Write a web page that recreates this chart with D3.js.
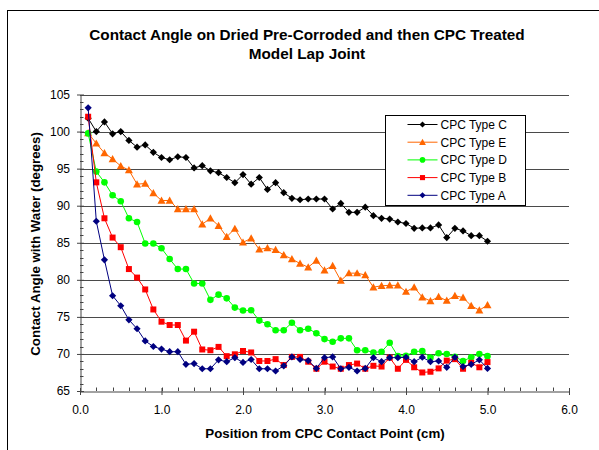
<!DOCTYPE html>
<html lang="en">
<head>
<meta charset="utf-8">
<title>Contact Angle Chart</title>
<script type="text/javascript" src="https://d3js.org/d3.v7.min.js"></script>
<style>
body { margin: 0; background: #fff; }
text { font-family: Arial, "Liberation Sans", sans-serif; }
</style>
</head>
<body>
<div id="container"></div>
<script>
// position from contact point (cm)
const positions = [0.1, 0.2, 0.3, 0.4, 0.5, 0.6, 0.7, 0.8, 0.9, 1.0,
    1.1, 1.2, 1.3, 1.4, 1.5, 1.6, 1.7, 1.8, 1.9, 2.0,
    2.1, 2.2, 2.3, 2.4, 2.5, 2.6, 2.7, 2.8, 2.9, 3.0,
    3.1, 3.2, 3.3, 3.4, 3.5, 3.6, 3.7, 3.8, 3.9, 4.0,
    4.1, 4.2, 4.3, 4.4, 4.5, 4.6, 4.7, 4.8, 4.9, 5.0];

const typeC = [101.8, 100.0, 101.3, 99.7, 100.0, 98.8, 97.9, 98.2, 97.2, 96.5,
    96.2, 96.6, 96.5, 95.1, 95.4, 94.7, 94.45, 93.8, 93.1, 94.2,
    92.9, 93.8, 92.2, 93.1, 91.75, 91.0, 90.8, 90.9, 90.9, 90.9,
    89.55, 90.3, 89.1, 89.1, 89.8, 88.65, 88.3, 88.2, 87.8, 87.6,
    86.95, 87.0, 87.0, 87.4, 85.7, 86.95, 86.6, 85.95, 85.95, 85.2];
const typeE = [99.8, 98.4, 97.1, 96.3, 95.35, 94.8, 92.9, 93.0, 91.7, 90.7,
    90.7, 89.55, 89.55, 89.55, 87.5, 88.3, 87.3, 85.8, 86.9, 85.05,
    85.6, 84.1, 84.3, 84.05, 83.35, 82.8, 82.2, 81.7, 82.6, 81.3,
    81.9, 79.9, 80.9, 80.9, 80.65, 79.0, 79.2, 79.25, 79.25, 78.4,
    79.0, 77.65, 77.15, 77.7, 77.2, 77.85, 77.6, 76.5, 75.9, 76.6];
const typeD = [99.75, 94.6, 93.15, 91.4, 90.6, 88.3, 87.8, 84.9, 84.9, 84.25,
    82.8, 81.45, 81.45, 79.5, 79.5, 77.3, 78.0, 77.5, 76.25, 75.85,
    75.9, 74.5, 74.0, 73.2, 73.2, 74.2, 73.2, 73.4, 72.8, 72.0,
    71.65, 72.1, 72.1, 70.5, 70.5, 70.2, 70.3, 71.5, 69.7, 69.75,
    70.3, 70.4, 69.5, 70.1, 70.0, 69.6, 69.05, 69.55, 70.0, 69.7];
const typeB = [102.0, 93.15, 88.3, 85.7, 84.4, 81.45, 80.3, 78.7, 76.0, 74.35,
    73.9, 73.9, 71.8, 73.0, 70.6, 70.5, 70.95, 69.7, 69.95, 70.4,
    70.2, 69.05, 69.05, 69.3, 68.5, 69.6, 69.6, 68.95, 68.0, 68.95,
    68.3, 68.0, 68.5, 68.7, 68.0, 68.4, 68.3, 69.5, 68.0, 69.2,
    68.2, 67.5, 67.6, 68.05, 69.1, 69.3, 68.0, 68.8, 68.2, 68.9];
const typeA = [103.2, 87.9, 82.7, 77.85, 76.5, 74.6, 73.4, 71.75, 71.0, 70.65,
    70.3, 70.3, 68.6, 68.7, 68.0, 68.0, 69.2, 68.95, 69.5, 68.85,
    69.25, 68.0, 68.0, 67.7, 68.4, 69.6, 69.25, 69.1, 68.05, 69.5,
    69.6, 68.0, 68.2, 67.7, 68.05, 69.5, 68.95, 69.5, 69.5, 69.55,
    68.95, 69.55, 68.95, 69.05, 68.2, 69.55, 68.3, 68.6, 69.2, 68.05];

const seriesNames = ["CPC Type C", "CPC Type E", "CPC Type D", "CPC Type B", "CPC Type A"];
const xTicks = [0, 1, 2, 3, 4, 5, 6];
const yTicks = [65, 70, 75, 80, 85, 90, 95, 100, 105];

const width = 599;
const height = 450;
const plot = {left: 80, right: 569, top: 94.5, bottom: 391};

const svg = d3.select("div#container").append("svg")
    .attr("width", width)
    .attr("height", height);

// outer frame (cut off at right and bottom like the original)
svg.append("rect")
    .attr("x", 7.5).attr("y", 10.5)
    .attr("width", 620).attr("height", 460)
    .attr("fill", "none").attr("stroke", "#000");

const xScale = d3.scaleLinear().domain([0, 6]).range([plot.left, plot.right]);
const yScale = d3.scaleLinear().domain([65, 105]).range([plot.bottom, plot.top]);

// gridlines
svg.append("g")
    .selectAll("line")
    .data(yTicks.slice(1))
    .enter()
    .append("line")
    .attr("x1", plot.left)
    .attr("x2", plot.right)
    .attr("y1", d => Math.round(yScale(d)) + 0.5)
    .attr("y2", d => Math.round(yScale(d)) + 0.5)
    .attr("stroke", "#4a4a4a");

// minor ticks
svg.append("g")
    .selectAll("line")
    .data(d3.range(66, 105))
    .enter()
    .append("line")
    .attr("x1", plot.left).attr("x2", plot.left + 3.5)
    .attr("y1", d => Math.round(yScale(d)) + 0.5)
    .attr("y2", d => Math.round(yScale(d)) + 0.5)
    .attr("stroke", "#444");
svg.append("g")
    .selectAll("line")
    .data(d3.range(0.2, 6, 0.2))
    .enter()
    .append("line")
    .attr("x1", d => Math.round(xScale(d)) + 0.5)
    .attr("x2", d => Math.round(xScale(d)) + 0.5)
    .attr("y1", plot.bottom - 3.5).attr("y2", plot.bottom)
    .attr("stroke", "#444");

const yaxis = d3.axisLeft(yScale)
    .tickValues(yTicks)
    .tickFormat(d3.format("d"))
    .tickSizeInner(3.5)
    .tickSizeOuter(0)
    .tickPadding(7);
const xaxis = d3.axisBottom(xScale)
    .tickValues(xTicks)
    .tickFormat(d3.format(".1f"))
    .tickSizeInner(3.5)
    .tickSizeOuter(0)
    .tickPadding(10);

const gy = svg.append("g")
    .attr("transform", "translate(" + (plot.left + 0.5) + ",0)")
    .call(yaxis);
const gx = svg.append("g")
    .attr("transform", "translate(0," + (Math.round(plot.bottom) + 0.5) + ")")
    .call(xaxis);
[gx, gy].forEach(g => {
    g.select(".domain").attr("stroke", "#444");
    g.selectAll(".tick line").attr("stroke", "#444");
    g.selectAll(".tick text")
        .attr("font-size", 12)
        .attr("font-family", "Arial, 'Liberation Sans', sans-serif")
        .attr("fill", "#000");
});
gy.selectAll(".tick line").attr("x2", 3.5).attr("x1", -3.5);
gx.selectAll(".tick line").attr("y1", -3.5).attr("y2", 3.5);

// titles
svg.append("text")
    .attr("x", 307).attr("y", 40)
    .attr("text-anchor", "middle")
    .attr("font-size", 15.3).attr("font-weight", "bold")
    .text("Contact Angle on Dried Pre-Corroded and then CPC Treated");
svg.append("text")
    .attr("x", 307).attr("y", 59)
    .attr("text-anchor", "middle")
    .attr("font-size", 15.3).attr("font-weight", "bold")
    .text("Model Lap Joint");
svg.append("text")
    .attr("x", 325).attr("y", 438)
    .attr("text-anchor", "middle")
    .attr("font-size", 13.3).attr("font-weight", "bold")
    .text("Position from CPC Contact Point (cm)");
svg.append("text")
    .attr("transform", "translate(40,244) rotate(-90)")
    .attr("text-anchor", "middle")
    .attr("font-size", 13.3).attr("font-weight", "bold")
    .text("Contact Angle with Water (degrees)");

// marker shapes
const shapes = {
    diamond: function(s) { return "M0," + (-s) + "L" + s + ",0L0," + s + "L" + (-s) + ",0Z"; },
    triangle: function(s) { return "M0," + (-s) + "L" + s + "," + (s * 0.8) + "L" + (-s) + "," + (s * 0.8) + "Z"; },
    circle: function(s) { return "M" + s + ",0A" + s + "," + s + " 0 1,1 " + (-s) + ",0A" + s + "," + s + " 0 1,1 " + s + ",0Z"; },
    square: function(s) { return "M" + (-s) + "," + (-s) + "H" + s + "V" + s + "H" + (-s) + "Z"; }
};

const slices = [
    {id: seriesNames[0], values: typeC, color: "#000000", shape: "diamond", size: 3.6},
    {id: seriesNames[1], values: typeE, color: "#FF6600", shape: "triangle", size: 4},
    {id: seriesNames[2], values: typeD, color: "#00FF00", shape: "circle", size: 3.3},
    {id: seriesNames[3], values: typeB, color: "#FF0000", shape: "square", size: 3},
    {id: seriesNames[4], values: typeA, color: "#000080", shape: "diamond", size: 3.6}
];

const line = d3.line()
    .x(function(d, i) { return xScale(positions[i]); })
    .y(function(d) { return yScale(d); });

const lines = svg.selectAll(".serie")
    .data(slices)
    .enter()
    .append("g")
    .attr("class", "serie");

lines.append("path")
    .attr("d", function(d) { return line(d.values); })
    .attr("fill", "none")
    .attr("stroke", function(d) { return d.color; })
    .attr("stroke-width", 1);

lines.each(function(s) {
    d3.select(this).selectAll("path.point")
        .data(s.values)
        .enter()
        .append("path")
        .attr("class", "point")
        .attr("transform", function(d, i) {
            return "translate(" + xScale(positions[i]) + "," + yScale(d) + ")";
        })
        .attr("d", shapes[s.shape](s.size))
        .attr("fill", s.color);
});

// legend
const legend = svg.append("g").attr("transform", "translate(385.5,115.5)");
legend.append("rect")
    .attr("width", 140).attr("height", 90)
    .attr("fill", "#fff").attr("stroke", "#000");
const items = legend.selectAll(".item")
    .data(slices)
    .enter()
    .append("g")
    .attr("class", "item")
    .attr("transform", function(d, i) { return "translate(0," + (9 + i * 17.7) + ")"; });
items.append("line")
    .attr("x1", 22).attr("x2", 52)
    .attr("stroke", function(d) { return d.color; });
items.append("path")
    .attr("transform", "translate(37,0)")
    .attr("d", function(d) { return shapes[d.shape](d.size * 0.85); })
    .attr("fill", function(d) { return d.color; });
items.append("text")
    .attr("x", 55).attr("y", 4.5)
    .attr("font-size", 12)
    .text(function(d) { return d.id; });
</script>
</body>
</html>
